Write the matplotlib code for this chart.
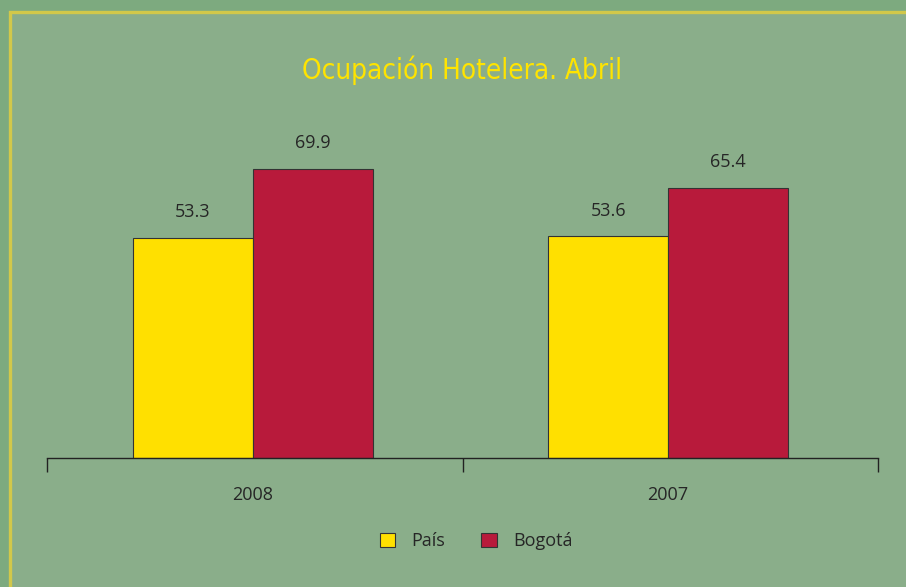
import matplotlib.pyplot as plt
import numpy as np
from matplotlib.patches import Rectangle

# data
years = ['2008', '2007']
pais = [53.3, 53.6]
bogota = [69.9, 65.4]
series_names = ['País', 'Bogotá']

bg_outer = '#7daa7f'
bg_inner = '#8aae8a'
border = '#d2c84a'
c_pais = '#ffe000'
c_bog = '#b81a3b'
txt = '#262626'

plt.rcParams['font.family'] = ['Open Sans', 'DejaVu Sans']

W, H = 906, 587
fig = plt.figure(figsize=(W / 100, H / 100), dpi=100, facecolor=bg_outer)

# inner panel with yellow border on top / left
fig.patches.append(Rectangle((9.5 / W, -0.05), 1.1, 1 - 11.5 / H + 0.05,
                             transform=fig.transFigure, facecolor=bg_inner,
                             edgecolor=border, linewidth=2.4, zorder=-10))

# axes: x 47..878 px, baseline y=458 px
ax = fig.add_axes([47 / W, 1 - 458 / H, (878 - 47) / W, (458 - 100) / H])
ax.set_facecolor('none')
ymax = (458 - 100) / 4.134
ax.set_ylim(0, ymax)
ax.set_xlim(-0.5, 1.5)

x = np.arange(len(years)) - 0.005
w = 0.289
b1 = ax.bar(x - w / 2, pais, w, color=c_pais, edgecolor='#333333', linewidth=0.8, label=series_names[0])
b2 = ax.bar(x + w / 2, bogota, w, color=c_bog, edgecolor='#333333', linewidth=0.8, label=series_names[1])

for bars, vals in ((b1, pais), (b2, bogota)):
    for r, v in zip(bars, vals):
        ax.text(r.get_x() + r.get_width() / 2, v + 4.0, f'{v:.1f}', ha='center', va='bottom',
                fontsize=13, color=txt)

for s in ['top', 'right', 'left']:
    ax.spines[s].set_visible(False)
ax.spines['bottom'].set_color('#222222')
ax.spines['bottom'].set_linewidth(1)
ax.set_yticks([])
ax.set_xticks(x)
ax.set_xticklabels(years, fontsize=13, color=txt)
ax.tick_params(axis='x', which='major', length=0, pad=20)
ax.set_xticks([-0.5, 0.5, 1.5], minor=True)
ax.tick_params(axis='x', which='minor', length=10, width=1, color='#222222', direction='out')

fig.text(462 / W, 1 - 70 / H, 'Ocupación Hotelera. Abril', ha='center', va='center',
         fontsize=20, color='#ffe400', family='DejaVu Sans', fontstretch='condensed')

leg = fig.legend(handles=[b1, b2], loc='center', bbox_to_anchor=(476 / W, 1 - 541 / H),
                 ncol=2, frameon=False, fontsize=13, handlelength=0.85, handleheight=0.85,
                 handletextpad=0.9, columnspacing=2.0, labelcolor=txt)

fig.savefig('out.png', dpi=100, facecolor=fig.get_facecolor())
